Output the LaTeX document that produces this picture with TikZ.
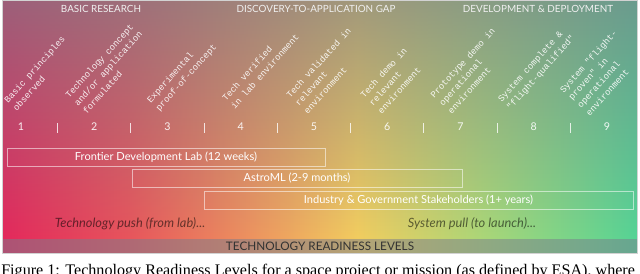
\documentclass[tikz,border=0pt]{standalone}
\usepackage{fontspec}
\setmainfont{Liberation Serif}
\newfontfamily\trlsans{Lato}
\newfontfamily\trlmono{Liberation Mono}
\usetikzlibrary{positioning,fadings}

\newcommand\trlpx{0.75pt}
\definecolor{trlA}{RGB}{228,40,92}
\definecolor{trlB}{RGB}{232,85,92}
\definecolor{trlC}{RGB}{238,150,95}
\definecolor{trlD}{RGB}{242,205,95}
\definecolor{trlE}{RGB}{170,215,120}
\definecolor{trlF}{RGB}{85,212,150}
\definecolor{trlhaze}{RGB}{118,125,138}
\definecolor{trlbar}{RGB}{120,124,140}
\pgfdeclarehorizontalshading{trlbase}{100bp}{color(0bp)=(trlA); color(25bp)=(trlA);
  color(35bp)=(trlB); color(45bp)=(trlC); color(53bp)=(trlD); color(63bp)=(trlE);
  color(75bp)=(trlF); color(100bp)=(trlF)}
\tikzfading[name=trlfade, top color=transparent!35, middle color=transparent!75,
  bottom color=transparent!100]

\begin{document}
\begin{tikzpicture}[x=0.75pt, y=-0.75pt, font=\trlsans,
  lvl/.style={rotate=48, anchor=south west, inner sep=0pt, align=left,
    text=white, text opacity=0.9, font=\trlmono\fontsize{6.7}{8.8}\selectfont},
  band/.style={draw=white, draw opacity=0.55, line width=0.6pt, inner sep=0pt,
    minimum height=18*\trlpx, text=white, font=\trlsans\fontsize{8.3}{9}\selectfont},
  phase/.style={text=white!88!gray, font=\trlsans\fontsize{7.4}{8}\selectfont},
  drive/.style={text=black, text opacity=0.55, font=\trlsans\itshape\fontsize{9.6}{11}\selectfont}]
  \useasboundingbox (0,0) rectangle (640,273);
  \clip (0,0) rectangle (640,273);
  % background
  \shade[shading=trlbase] (2,0) rectangle (637,253);
  \fill[trlhaze, path fading=trlfade] (2,0) rectangle (637,239);
  \fill[trlbar, fill opacity=0.5] (2,239) rectangle (637,253);
  \draw[gray!35, line width=0.5pt] (2,0.3) rectangle (637,253);
  % phases
  \node[phase] (basic) at (101,9) {BASIC RESEARCH};
  \node[phase] (gap)   at (316,9) {DISCOVERY-TO-APPLICATION GAP};
  \node[phase] (deploy) at (538,9) {DEVELOPMENT \& DEPLOYMENT};
  % levels
  \node[lvl] (l1) at (17,112)  {Basic principles\\observed};
  \node[lvl] (l2) at (87,115)  {Technology concept\\and/or application\\formulated};
  \node[lvl] (l3) at (161,113) {Experimental\\proof-of-concept};
  \node[lvl] (l4) at (235,110) {Tech verified\\in lab environment};
  \node[lvl] (l5) at (308,115) {Tech validated in\\relevant\\environment};
  \node[lvl] (l6) at (382,115) {Tech demo in\\relevant\\environment};
  \node[lvl] (l7) at (452,115) {Prototype demo in\\operational\\environment};
  \node[lvl] (l8) at (512,112) {System complete \&\\"flight-qualified"};
  \node[lvl] (l9) at (590,117) {System "flight-\\proven" in\\operational\\environment};
  \foreach \i in {1,...,9}
    \node[text=white, text opacity=0.9, font=\trlsans\fontsize{8}{9}\selectfont]
      (n\i) at (21+73.25*\i-73.25,127) {\i};
  \foreach \i in {1,...,8}
    \draw[white, opacity=0.8, line width=0.6pt] (57.6+73.25*\i-73.25,123) -- ++(0,10);
  % programmes
  \node[band, minimum width=318*\trlpx] (fdl)    at (166,157)   {Frontier Development Lab (12 weeks)};
  \node[band, minimum width=330*\trlpx] (astro)  at (297,178)   {AstroML (2-9 months)};
  \node[band, minimum width=429*\trlpx] (stake)  at (418.5,200) {Industry \& Government Stakeholders (1+ years)};
  \node[drive] (push) at (130,224) {Technology push (from lab)...};
  \node[drive] (pull) at (472,224) {System pull (to launch)...};
  \node[text=black!80, font=\trlsans\fontsize{8.8}{9}\selectfont] (trl) at (320,246.5) {TECHNOLOGY READINESS LEVELS};
  % caption, cut by the frame
  \node[anchor=base west, inner sep=0pt, font=\fontsize{12.1}{14}\selectfont] (cap) at (1,275.5)
    {Figure 1: Technology Readiness Levels for a space project or mission (as defined by ESA), where};
\end{tikzpicture}
\end{document}
